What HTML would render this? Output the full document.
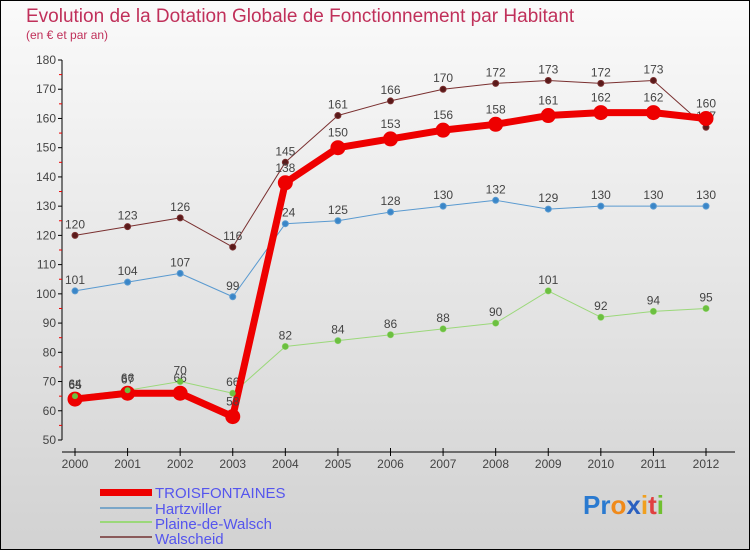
<!DOCTYPE html>
<html><head><meta charset="utf-8"><style>
body{margin:0;}
#wrap{position:relative;width:750px;height:550px;box-sizing:border-box;border:1px solid #000;background:linear-gradient(#fafafa,#d2d2d2);font-family:"Liberation Sans",sans-serif;overflow:hidden}
</style></head><body>
<div id="wrap">
<svg id="chart" width="750" height="550" style="position:absolute;left:-1px;top:-1px">
<text x="26" y="22" font-size="19" fill="#c0305a">Evolution de la Dotation Globale de Fonctionnement par Habitant</text>
<text x="26" y="39" font-size="12" fill="#c0305a">(en € et par an)</text>
<g id="axes"></g><g id="series"></g>
<g>
<rect x="100" y="489" width="52" height="7" fill="#e00"/>
<text x="155" y="498" font-size="15" fill="#5555ee">TROISFONTAINES</text>
<rect x="100" y="507" width="52" height="2" fill="#7aa6c8"/>
<text x="155" y="514" font-size="15" fill="#5555ee">Hartzviller</text>
<rect x="100" y="521" width="52" height="2" fill="#9bd87a"/>
<text x="155" y="529" font-size="15" fill="#5555ee">Plaine-de-Walsch</text>
<rect x="100" y="536" width="52" height="2" fill="#8a5a5a"/>
<text x="155" y="544" font-size="15" fill="#5555ee">Walscheid</text>
</g>
<g font-size="26" font-weight="bold">
<text x="583" y="514"><tspan fill="#2a7ad0">Pr</tspan><tspan fill="#f08a1a">o</tspan><tspan fill="#2a60c0">x</tspan><tspan fill="#f0a020">i</tspan><tspan fill="#e04040">t</tspan><tspan fill="#70c030">i</tspan></text>
</g>
</svg>
</div>
<script>
const years=[2000,2001,2002,2003,2004,2005,2006,2007,2008,2009,2010,2011,2012];
const yTicks=[50,60,70,80,90,100,110,120,130,140,150,160,170,180];
const troisfontaines=[64,66,66,58,138,150,153,156,158,161,162,162,160];
const hartzviller=[101,104,107,99,124,125,128,130,132,129,130,130,130];
const plaine=[65,67,70,66,82,84,86,88,90,101,92,94,95];
const walscheid=[120,123,126,116,145,161,166,170,172,173,172,173,157];
const NS="http://www.w3.org/2000/svg";
const X=i=>75+i*(706-75)/12;
const Y=v=>440-(v-50)*(380/130);
function mk(tag,attrs,parent){const e=document.createElementNS(NS,tag);for(const k in attrs)e.setAttribute(k,attrs[k]);parent.appendChild(e);return e;}
const ax=document.getElementById('axes');
let l=mk('line',{x1:62,y1:60,x2:62,y2:440,stroke:'#000'},ax);


l=mk('line',{x1:62,y1:452,x2:735,y2:452,stroke:'#000'},ax);


yTicks.forEach((v,i)=>{
 mk('line',{x1:58,y1:Y(v),x2:62,y2:Y(v),stroke:'#000'},ax);
 if(i<yTicks.length-1)mk('line',{x1:59,y1:Y(v+5),x2:62,y2:Y(v+5),stroke:'#e00'},ax);
 const t=mk('text',{x:56,y:Y(v)+4,'font-size':12,fill:'#444','text-anchor':'end'},ax);t.textContent=v;
 
 
});
years.forEach((yr,i)=>{
 mk('line',{x1:X(i),y1:448,x2:X(i),y2:456,stroke:'#000'},ax);
 const t=mk('text',{x:X(i),y:468,'font-size':12,fill:'#444','text-anchor':'middle'},ax);t.textContent=yr;
 
 
});
const sg=document.getElementById('series');
function draw(data,name,color,dot,w,r,labelBelow){
 const g=mk('g',{},sg);
 
 
 mk('polyline',{points:data.map((v,i)=>X(i)+','+Y(v)).join(' '),fill:'none',stroke:color,'stroke-width':w,'stroke-linejoin':'round'},g);
 data.forEach((v,i)=>{
  const c=mk('circle',{cx:X(i),cy:Y(v),r:r,fill:dot,stroke:color,'stroke-width':1},g);
  
  
  const t=mk('text',{x:X(i),y:Y(v)-(labelBelow?-(r+10):r+4),'font-size':12,fill:'#444','text-anchor':'middle'},g);t.textContent=v;
  
  
 });
}
draw(walscheid,'walscheid','#7a3030','#5a1a1a',1,3,false);
draw(hartzviller,'hartzviller','#5a9ad0','#3a86c8',1,3,false);
draw(plaine,'plaine','#9bd87a','#6cc040',1,3,false);
draw(troisfontaines,'troisfontaines','#ee0000','#ee0000',7,7,false);
// redraw plaine dots over red
plaine.forEach((v,i)=>{const c=mk('circle',{cx:X(i),cy:Y(v),r:3,fill:'#6cc040'},sg);
 
 });
</script>
</body></html>
